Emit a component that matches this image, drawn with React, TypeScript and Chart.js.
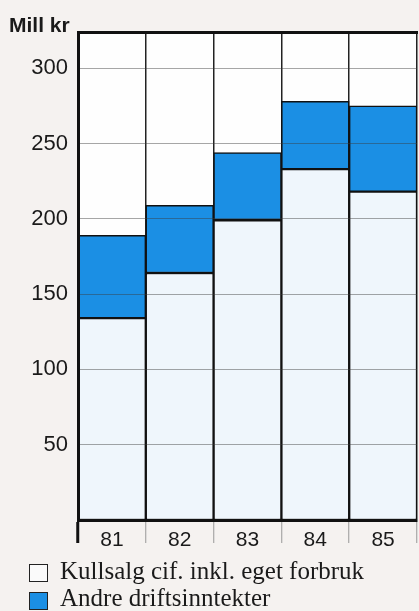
import React, { useEffect, useRef } from "react";
import { Chart, registerables } from "chart.js";

Chart.register(...registerables);

const years = ["81", "82", "83", "84", "85"];
const kullsalg = [134, 164, 199, 233, 218];
const andre = [55, 45, 45, 45, 57];
const yTickValues = [50, 100, 150, 200, 250, 300];
const yMax = 324;

const legendLabels = ["Kullsalg cif. inkl. eget forbruk", "Andre driftsinntekter"];
const unitLabel = "Mill kr";

const PAGE_BG = "#f5f2f0";
const LIGHT = "#eff6fc";
const BLUE = "#1b8fe4";

const plotBg = {
  id: "plotBg",
  beforeDraw(chart: any) {
    const { ctx, chartArea } = chart;
    ctx.save();
    ctx.fillStyle = "#fefefe";
    ctx.fillRect(chartArea.left, chartArea.top, chartArea.right - chartArea.left, chartArea.bottom - chartArea.top);
    ctx.restore();
  },
};

export default function App() {
  const ref = useRef<HTMLCanvasElement>(null);

  useEffect(() => {
    if (!ref.current) return;
    const isEdge = (c: any) => c.index === 0 || c.index === years.length;
    const chart = new Chart(ref.current, {
      type: "bar",
      data: {
        labels: years,
        datasets: [
          {
            label: legendLabels[0],
            data: kullsalg,
            backgroundColor: LIGHT,
            borderColor: "#111",
            borderWidth: 1.5,
            borderSkipped: false,
            barPercentage: 1,
            categoryPercentage: 1,
          },
          {
            label: legendLabels[1],
            data: andre,
            backgroundColor: BLUE,
            borderColor: "#111",
            borderWidth: 1.5,
            borderSkipped: false,
            barPercentage: 1,
            categoryPercentage: 1,
          },
        ],
      },
      options: {
        animation: false,
        responsive: true,
        maintainAspectRatio: false,
        layout: { padding: { left: 0, top: 32, right: 2, bottom: 61 } },
        plugins: { legend: { display: false }, tooltip: { enabled: false } },
        scales: {
          x: {
            stacked: true,
            offset: true,
            grid: {
              display: true,
              offset: true,
              color: "#222",
              lineWidth: 1.5,
              drawTicks: true,
              tickLength: 23,
              tickColor: (c: any) => (isEdge(c) ? "#111" : "#999"),
              tickWidth: (c: any) => (isEdge(c) ? 3 : 1),
            },
            border: { display: true, color: "#111", width: 3, z: 2 },
            ticks: {
              color: "#1a1a1a",
              font: { family: "Liberation Sans", size: 21 },
              padding: -15,
              maxRotation: 0,
            },
            afterFit: (s: any) => {
              s.height = 30;
            },
          },
          xTop: {
            type: "category",
            labels: years,
            position: "top",
            offset: true,
            grid: { display: false },
            ticks: { display: false },
            border: { display: true, color: "#111", width: 3, z: 2 },
            afterFit: (s: any) => {
              s.height = 0;
            },
          },
          y: {
            stacked: true,
            min: 0,
            max: yMax,
            afterBuildTicks: (s: any) => {
              s.ticks = yTickValues.map((v) => ({ value: v }));
            },
            grid: {
              color: "rgba(60,60,60,0.45)",
              lineWidth: 1,
              drawTicks: false,
              z: 1,
            },
            border: { display: true, color: "#111", width: 3, z: 2 },
            ticks: {
              color: "#1a1a1a",
              font: { family: "Liberation Sans", size: 22 },
              padding: 10,
            },
            afterFit: (s: any) => {
              s.width = 78;
            },
          },
        },
      },
      plugins: [plotBg],
    });
    return () => chart.destroy();
  }, []);

  const box = (top: number, bg: string): React.CSSProperties => ({
    position: "absolute",
    left: 29,
    top,
    width: 17,
    height: 16,
    background: bg,
    border: "1.5px solid #222",
  });
  const text = (top: number): React.CSSProperties => ({
    position: "absolute",
    left: 60,
    top,
    fontFamily: "'Liberation Serif', serif",
    fontSize: 25,
    color: "#1a1a1a",
    whiteSpace: "nowrap",
    lineHeight: "normal",
  });

  return (
    <div
      style={{
        position: "fixed",
        left: 0,
        top: 0,
        width: 419,
        height: 611,
        background: PAGE_BG,
        overflow: "hidden",
      }}
    >
      <div style={{ position: "absolute", left: 0, top: 0, width: 419, height: 611 }}>
        <canvas ref={ref} />
      </div>
      <div
        style={{
          position: "absolute",
          left: 9,
          top: 13,
          fontFamily: "'Liberation Sans', sans-serif",
          fontWeight: "bold",
          fontSize: 21,
          color: "#1a1a1a",
          lineHeight: "normal",
        }}
      >
        {unitLabel}
      </div>
      <div style={box(564, "#fafafa")} />
      <div style={text(557)}>{legendLabels[0]}</div>
      <div style={box(592, BLUE)} />
      <div style={text(584)}>{legendLabels[1]}</div>
    </div>
  );
}
